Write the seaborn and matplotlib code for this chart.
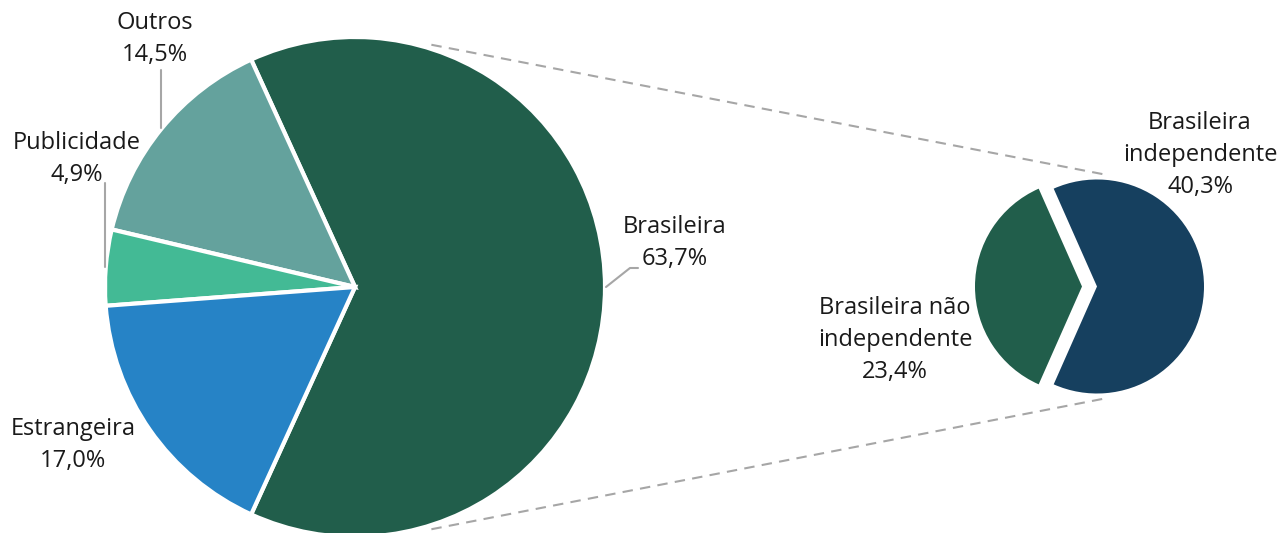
import numpy as np
import matplotlib.pyplot as plt
import seaborn as sns

sns.set_theme(style="white")
plt.rcParams["font.family"] = ["Open Sans", "DejaVu Sans"]

# main pie
main_labels = ["Brasileira", "Outros", "Publicidade", "Estrangeira"]
main_pct = ["63,7%", "14,5%", "4,9%", "17,0%"]
main_values = [63.7, 14.5, 4.9, 17.0]
main_colors = ["#215E4B", "#64A29D", "#43BA95", "#2683C6"]

# breakdown of "Brasileira"
sub_labels = ["Brasileira\nindependente", "Brasileira não\nindependente"]
sub_pct = ["40,3%", "23,4%"]
sub_values = [40.3, 23.4]
sub_colors = ["#16405F", "#215E4B"]

W, H = 1282, 533
TXT = "#1A1A1A"
GREY = "#A6A6A6"
FS = 17
LS = 1.42

fig = plt.figure(figsize=(W / 100, H / 100), dpi=100)
ax = fig.add_axes([0, 0, 1, 1])

# big pie
c1, r1 = (355, 246), 250
start1 = -main_values[0] / sum(main_values) * 180
ax.pie(main_values, colors=main_colors, center=c1, radius=r1,
       startangle=start1, counterclock=True,
       wedgeprops=dict(edgecolor="white", linewidth=3))

# small pie (exploded, offset in data units)
c2, r2 = (1089.5, 246.5), 107
start2 = -sub_values[0] / sum(sub_values) * 180
ax.pie(sub_values, colors=sub_colors, center=c2, radius=r2,
       startangle=start2, explode=[7.5, 7.5],
       wedgeprops=dict(linewidth=0))


def mid_angle(values, start, i):
    tot = sum(values)
    a0 = start + sum(values[:i]) / tot * 360
    return a0 + values[i] / tot * 180


def on_circle(c, r, ang):
    a = np.deg2rad(ang)
    return c[0] + r * np.cos(a), c[1] + r * np.sin(a)


# leader lines
p = on_circle(c1, r1 + 1, mid_angle(main_values, start1, 0))
ax.plot([p[0], 630, 638], [p[1], 265, 265], color=GREY, lw=1.5)
p = on_circle(c1, r1 + 1, mid_angle(main_values, start1, 1))
ax.plot([p[0], p[0]], [p[1], 463], color=GREY, lw=1.5)
p = on_circle(c1, r1 + 1, mid_angle(main_values, start1, 2))
ax.plot([p[0], p[0]], [p[1], 350], color=GREY, lw=1.5)

# dashed connectors between pies
for s in (1, -1):
    a = on_circle(c1, r1 + 4, s * 72.5)
    b = on_circle(c2, r2 + 6, s * 82)
    ax.plot([a[0], b[0]], [a[1], b[1]], color=GREY, lw=1.5,
            dashes=(5, 3.5))

# labels
main_pos = [(675, 290), (155, 494), (77, 374), (73, 88)]
for lab, pct, (x, y) in zip(main_labels, main_pct, main_pos):
    ax.text(x, y, f"{lab}\n{pct}", ha="center", va="center",
            fontsize=FS, color=TXT, linespacing=LS)

sub_pos = [(1200, 378), (895, 193)]
for lab, pct, (x, y) in zip(sub_labels, sub_pct, sub_pos):
    ax.text(x, y, f"{lab}\n{pct}", ha="center", va="center",
            fontsize=FS, color=TXT, linespacing=LS)

ax.set_xlim(0, W)
ax.set_ylim(0, H)
ax.set_aspect("equal")
ax.axis("off")

fig.savefig("out.png", dpi=100, facecolor="white")
